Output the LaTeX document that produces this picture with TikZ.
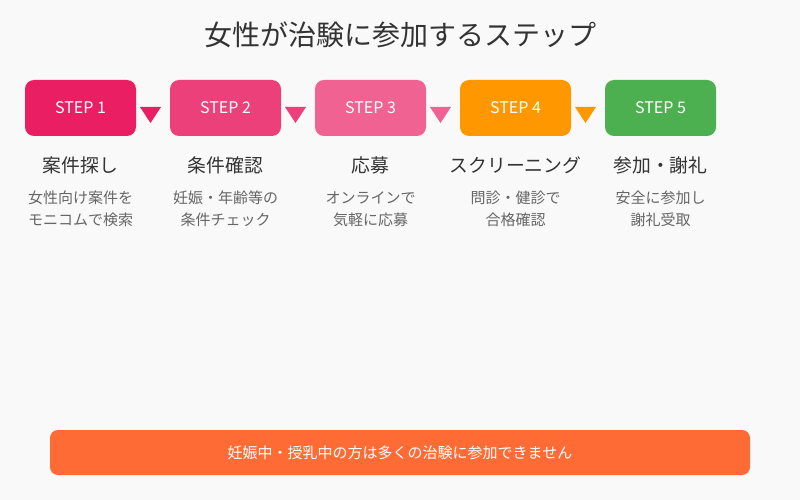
\documentclass[tikz,border=0pt]{standalone}
\usepackage{fontspec}
\setmainfont{Noto Sans CJK JP}
\usetikzlibrary{positioning}
\definecolor{bgc}{HTML}{F9F9F9}
\definecolor{c1}{HTML}{E91E63}
\definecolor{c2}{HTML}{EC407A}
\definecolor{c3}{HTML}{F06292}
\definecolor{c4}{HTML}{FF9800}
\definecolor{c5}{HTML}{4CAF50}
\definecolor{warn}{HTML}{FF6B35}
\definecolor{titlec}{HTML}{333333}
\definecolor{descc}{HTML}{666666}
\tikzset{
  stepbox/.style={rounded corners=9pt, minimum width=111pt, minimum height=56pt, inner sep=0pt, text=white, font=\fontsize{16}{18}\selectfont},
  steptitle/.style={text=titlec, font=\fontsize{18.8}{22}\selectfont, inner sep=0pt},
  stepdesc/.style={text=descc, font=\fontsize{15}{22}\selectfont, align=center, inner sep=0pt},
}
\begin{document}
\begin{tikzpicture}[x=1pt,y=-1pt]
\fill[bgc] (0,0) rectangle (800,500);
\useasboundingbox (0,0) rectangle (800,500);
\node[text=titlec, font=\fontsize{28}{32}\selectfont, inner sep=0pt] (title) at (400,35) {女性が治験に参加するステップ};
\foreach \i/\c/\t/\da/\db in {1/c1/案件探し/女性向け案件を/モニコムで検索,
  2/c2/条件確認/妊娠・年齢等の/条件チェック,
  3/c3/応募/オンラインで/気軽に応募,
  4/c4/スクリーニング/問診・健診で/合格確認,
  5/c5/参加・謝礼/安全に参加し/謝礼受取} {
  \pgfmathsetmacro{\cx}{80.5+145*(\i-1)}
  \node[stepbox, fill=\c] (s\i) at (\cx,108) {STEP \i};
  \node[steptitle] (t\i) at (\cx,165) {\t};
  \node[stepdesc] (d\i) at (\cx,209) {\da\\\db};
}
\foreach \i/\c in {1/c1,2/c2,3/c3,4/c4} {
  \pgfmathsetmacro{\tx}{150.5+145*(\i-1)}
  \coordinate (a\i) at (\tx,115);
  \fill[\c] ([xshift=-10.5pt,yshift=8pt]a\i) -- ([xshift=10.5pt,yshift=8pt]a\i) -- ([yshift=-8pt]a\i) -- cycle;
}
\node[fill=warn, rounded corners=8pt, minimum width=700pt, minimum height=45pt, inner sep=0pt, text=white, font=\fontsize{15}{18}\selectfont] (warnbar) at (400,452.5) {妊娠中・授乳中の方は多くの治験に参加できません};
\end{tikzpicture}
\end{document}
